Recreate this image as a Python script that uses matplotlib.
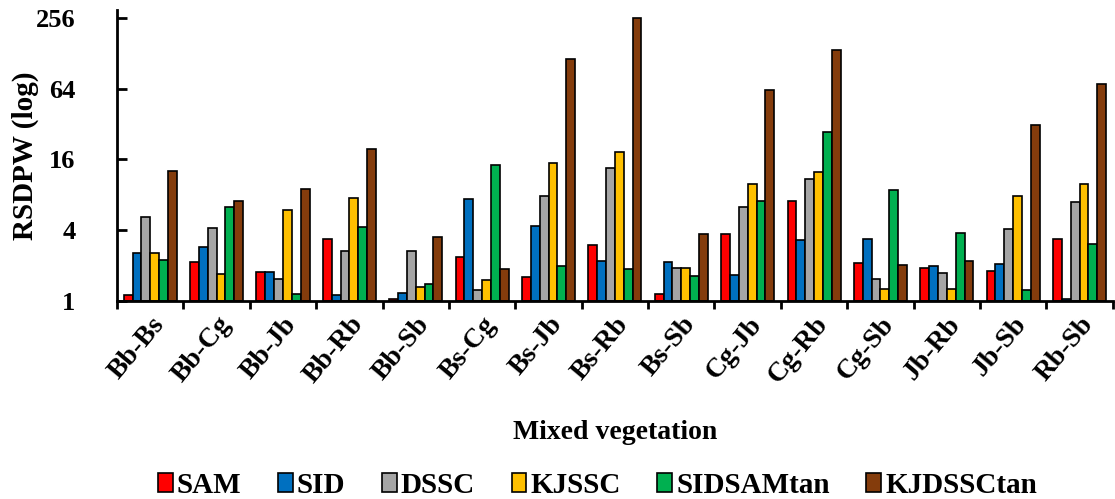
"""Grouped bar chart of RSDPW per mixed vegetation pair, log2 scale."""

import matplotlib

matplotlib.use("Agg")
import matplotlib.pyplot as plt
import numpy as np
from matplotlib.patches import Patch
from matplotlib.ticker import FixedLocator, NullFormatter

pairs = ["Bb-Bs", "Bb-Cg", "Bb-Jb", "Bb-Rb", "Bb-Sb", "Bs-Cg", "Bs-Jb", "Bs-Rb",
         "Bs-Sb", "Cg-Jb", "Cg-Rb", "Cg-Sb", "Jb-Rb", "Jb-Sb", "Rb-Sb"]
methods = ["SAM", "SID", "DSSC", "KJSSC", "SIDSAMtan", "KJDSSCtan"]

sam = [1.12, 2.14, 1.76, 3.36, 1.03, 2.37, 1.60, 3.00, 1.15, 3.71, 7.1, 2.10, 1.91, 1.80, 3.36]
sid = [2.56, 2.88, 1.76, 1.12, 1.17, 7.4, 4.35, 2.19, 2.14, 1.66, 3.30, 3.36, 1.98, 2.07, 1.04]
dssc = [5.2, 4.17, 1.54, 2.66, 2.66, 1.24, 7.8, 13.5, 1.91, 6.3, 10.9, 1.54, 1.73, 4.09, 6.9]
kjssc = [2.56, 1.70, 5.9, 7.5, 1.32, 1.51, 14.9, 18.5, 1.91, 9.9, 12.5, 1.27, 1.27, 7.8, 9.9]
sidsamtan = [2.23, 6.3, 1.15, 4.26, 1.39, 14.3, 1.98, 1.87, 1.63, 7.1, 27.3, 8.8, 3.79, 1.24, 3.05]
kjdssctan = [12.7, 7.1, 8.9, 19.6, 3.5, 1.87, 114, 254, 3.71, 62, 136, 2.02, 2.19, 31.4, 70]

colors = ["#FF0000", "#0070C0", "#A5A5A5", "#FFC000", "#00B050", "#843C0C"]
y_ticks = [1, 4, 16, 64, 256]

plt.rcParams["font.family"] = ["Liberation Serif", "DejaVu Serif"]
plt.rcParams["font.weight"] = "bold"

series = [sam, sid, dssc, kjssc, sidsamtan, kjdssctan]
x = np.arange(len(pairs))
width = 0.8 / len(methods)

fig = plt.figure(figsize=(11.15, 4.99), dpi=100)
ax = fig.add_axes([0.105, 0.397, 0.893, 0.583])

for i, (values, color) in enumerate(zip(series, colors)):
    values = np.asarray(values, dtype=float)
    offset = (i - (len(methods) - 1) / 2) * width
    ax.bar(x + offset, values - 1, width, bottom=1, color=color,
           edgecolor="black", linewidth=1.2)

ax.set_yscale("log", base=2)
ax.set_ylim(1, 2 ** 8.22)
ax.set_xlim(-0.5, len(pairs) - 0.5)
ax.yaxis.set_major_locator(FixedLocator(y_ticks))
ax.set_yticklabels([str(t) for t in y_ticks])
ax.yaxis.set_minor_formatter(NullFormatter())
ax.yaxis.set_minor_locator(FixedLocator([]))

ax.set_xticks(x)
ax.set_xticklabels(pairs, rotation=50, ha="right", rotation_mode="anchor", fontsize=20)
ax.set_xticks(np.arange(len(pairs) + 1) - 0.5, minor=True)
ax.tick_params(axis="x", which="major", length=0, pad=8)
ax.tick_params(axis="x", which="minor", direction="out", length=6, width=2)
ax.tick_params(axis="y", which="major", direction="in", length=7, width=2, labelsize=19, pad=30)

for side in ("top", "right"):
    ax.spines[side].set_visible(False)
for side in ("left", "bottom"):
    ax.spines[side].set_linewidth(2)

ax.set_ylabel("RSDPW (log)", fontsize=21, fontweight="bold")
ax.yaxis.set_label_coords(-0.078, 0.5)
ax.set_xlabel("Mixed vegetation", fontsize=20, fontweight="bold")
ax.xaxis.set_label_coords(0.5, -0.41)

handles = [Patch(facecolor=c, edgecolor="black", linewidth=1.2, label=m)
           for m, c in zip(methods, colors)]
fig.legend(handles=handles, loc="center", bbox_to_anchor=(0.536, 0.027), ncol=6,
           frameon=False, fontsize=21, handlelength=0.5, handleheight=0.6,
           handletextpad=0.15, columnspacing=1.25)

fig.savefig("out.png", dpi=100)
